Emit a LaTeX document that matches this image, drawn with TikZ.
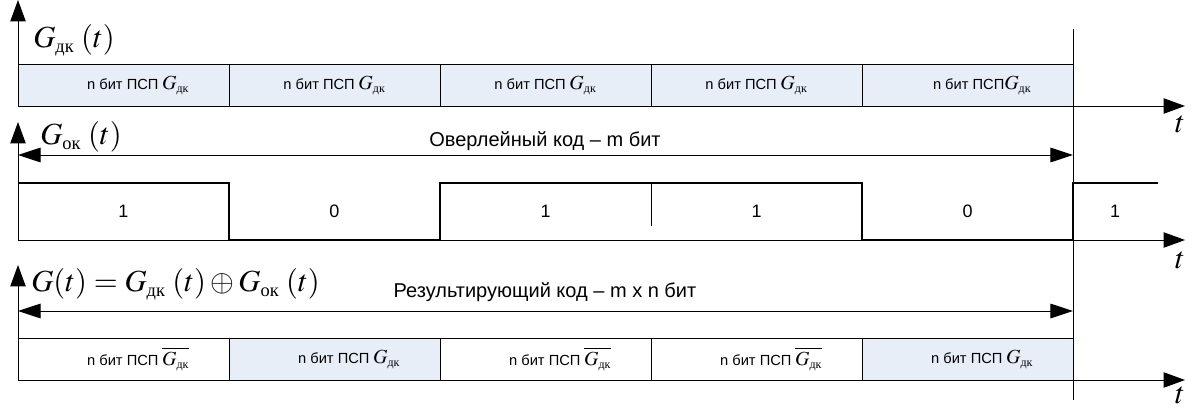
\documentclass[tikz,border=0pt]{standalone}
\usepackage{amsmath}
\usepackage{mathptmx}
\usepackage{fontspec}
\setmainfont{Liberation Sans}
\newfontfamily\tnr{Liberation Serif}
\usetikzlibrary{arrows.meta,positioning}
\definecolor{pspblue}{RGB}{231,238,248}
\newcommand{\Gdk}{G_{\scriptscriptstyle\text{\tnr дк}}}
\newcommand{\Gok}{G_{\scriptscriptstyle\text{\tnr ок}}}
\newcommand{\psp}[2]{{\fontsize{11}{13}\selectfont n бит ПСП}#1{\fontsize{15}{17}\selectfont$#2$}}

\begin{document}
\begin{tikzpicture}[x=0.75pt,y=-0.75pt,
    axis/.style={line width=0.7pt,-{Triangle[length=16pt,width=11.5pt]}},
    span/.style={line width=0.7pt,{Triangle[length=17pt,width=11pt]}-{Triangle[length=17pt,width=11pt]}},
    bitbox/.style={draw,line width=0.7pt,minimum width=158.25pt,minimum height=31.5pt,
      inner sep=0pt,outer sep=0pt,anchor=south west},
    signal/.style={line width=2.2pt,line join=miter},
    tlab/.style={font=\fontsize{23}{27}\selectfont,inner sep=0pt},
    note/.style={font=\fontsize{15}{17}\selectfont,inner sep=0pt},
    bit/.style={font=\fontsize{13.5}{16}\selectfont,inner sep=0pt}]
  \useasboundingbox (0,0) rectangle (1192,407);

  % G_dk(t)
  \foreach \i/\dx/\sp in {0/11/\ ,1/0/\ ,2/0/\ ,3/0/\ ,4/11/}
    {
    \node[bitbox,fill=pspblue] (dk\i) at ({18+211*\i},106) {};
    \node (dkl\i) at ([xshift=\dx pt]dk\i.center) {\psp{\sp}{\Gdk}};
    }
  \coordinate (o1) at (18,106);
  \coordinate (y1) at (18,0);
  \coordinate (x1) at (1185,106);
  \draw[axis] (o1) -- (y1);
  \draw[axis] (o1) -- (x1);
  \node[tlab,anchor=west] (g1) at (33,40) {$\Gdk\;(t)$};
  \node[tlab] (t1) at (1180,124) {$t$};

  \coordinate (m0) at (1073,29);
  \coordinate (m1) at (1073,400);
  \draw[line width=0.7pt] (m0) -- (m1);

  % G_ok(t)
  \coordinate (o2) at (18,240);
  \coordinate (y2) at (18,122);
  \coordinate (x2) at (1185,240);
  \draw[axis] (o2) -- (y2);
  \draw[axis] (o2) -- (x2);
  \node[tlab,anchor=west] (g2) at (40,137) {$\Gok\;(t)$};
  \node[tlab] (t2) at (1180,260) {$t$};
  \coordinate (s2a) at (18,155);
  \coordinate (s2b) at (1073,155);
  \draw[span] (s2a) -- (s2b);
  \node[note] (ov) at (545,141) {Оверлейный код – m бит};
  \draw[signal] (18,183) -| (229,240) -| (440,183) -| (862,240) -| (1073,183) -- (1158,183);
  \draw[line width=0.7pt] (651,183) -- (651,226);
  \foreach \x/\b [count=\k] in {123.5/1,334.5/0,545.5/1,756.5/1,967.5/0,1115/1}
    \node[bit] (b\k) at (\x,211) {\b};

  % G(t)
  \foreach \i/\c/\g in {0/white/\overline{\Gdk},1/pspblue/\Gdk,2/white/\overline{\Gdk},
      3/white/\overline{\Gdk},4/pspblue/\Gdk}
    {
    \node[bitbox,fill=\c] (rs\i) at ({18+211*\i},380) {};
    \node (rsl\i) at ([xshift=11pt]rs\i.center) {\psp{\ }{\g}};
    }
  \coordinate (o3) at (18,380);
  \coordinate (y3) at (18,265);
  \coordinate (x3) at (1185,380);
  \draw[axis] (o3) -- (y3);
  \draw[axis] (o3) -- (x3);
  \node[tlab,anchor=west] (g3) at (31,284) {$G(t)=\Gdk\;(t)\oplus\Gok\;(t)$};
  \node[tlab,anchor=north] (t3) at (1180,387) {$t$};
  \coordinate (s3a) at (18,311);
  \coordinate (s3b) at (1073,311);
  \draw[span] (s3a) -- (s3b);
  \node[note] (rz) at (545,292) {Результирующий код – m x n бит};
\end{tikzpicture}
\end{document}
